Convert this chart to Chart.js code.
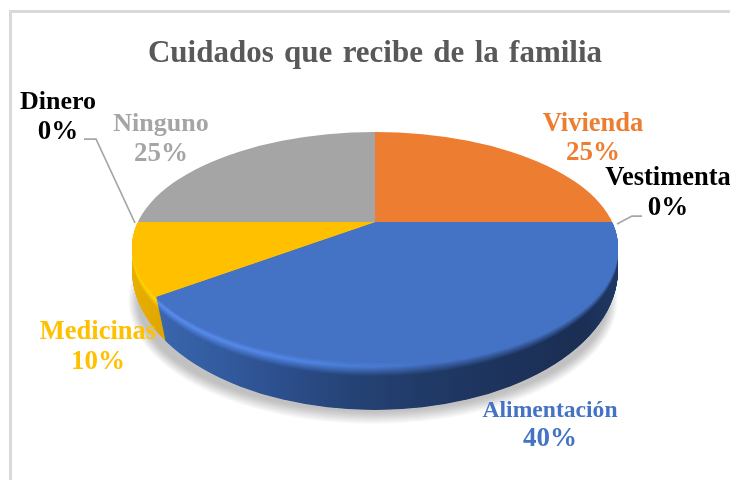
<!DOCTYPE html>
<html><head><meta charset="utf-8">
<script src="https://cdn.jsdelivr.net/npm/chart.js@4"></script>
<style>html,body{margin:0;padding:0;background:#fff;overflow:hidden}
#wrap{position:relative;width:730px;height:480px}
#frame{position:absolute;left:9px;top:10px;width:760px;height:520px;border:3px solid #d9d9d9;box-sizing:border-box}
canvas{position:absolute;left:0;top:0}</style>
</head><body><div id="wrap"><div id="frame"></div><canvas id="c" width="730" height="480"></canvas></div>
<script>
const titleText = 'Cuidados \u200Aque \u200Arecibe \u200Ade \u200Ala \u200Afamilia';
const categories = ['Vivienda','Vestimenta','Alimentación','Medicinas','Dinero','Ninguno'];
const values = [25,0,40,10,0,25];
const faceColors = ['#ed7d31','#70ad47','#4472c4','#ffc000','#000000','#a5a5a5'];
const labelColors = ['#ed7d31','#000000','#4472c4','#ffc000','#000000','#a5a5a5'];
const labelCenters = [[593,124.5,153.5],[668,178.5,208.5],[550,411,439.5],[98,332.5,362.5],[58,102.5,132.5],[161,124.5,154.5]];
const labelSizes = [26.5,26.5,23.6,26.5,26,26];
const leaders = [[[617,224],[632,216],[642,216]],[[84,139],[96,139],[135,223]]];

const wallStops = {
  2:[[160,'#3a66ad'],[250,'#2f5597'],[340,'#264478'],[440,'#1f3864'],[590,'#1b2d52'],[618,'#1f3864']],
  3:[[132,'#e8ae00'],[165,'#dfa600']]
};
const bevelStops = {
  2:[[160,'#5a8df0'],[300,'#5086e6'],[430,'#4472c4'],[618,'#4472c4']],
  3:[[132,'#ffd400'],[165,'#ffd800']]
};
const FACE = {x:375,y:247,rx:243,ry:115};
const BASE = {y:270,ry:140};
const TILT = 0.469;
const DEPTH = 47;

function hex(c){const n=parseInt(c.slice(1),16);return [n>>16,(n>>8)&255,n&255];}
function mix(a,b,f){const A=hex(a),B=hex(b);return 'rgb('+A.map((v,i)=>Math.round(v+(B[i]-v)*f)).join(',')+')';}
function toHex(rgb){return '#'+rgb.match(/\d+/g).map(v=>Number(v).toString(16).padStart(2,'0')).join('');}
function interp(stops,x){
  if(x<=stops[0][0])return stops[0][1];
  for(let i=1;i<stops.length;i++){
    if(x<=stops[i][0]){
      const f=(x-stops[i-1][0])/(stops[i][0]-stops[i-1][0]);
      return toHex(mix(stops[i-1][1],stops[i][1],f));
    }
  }
  return stops[stops.length-1][1];
}
function layerFill(ctx,i,t){
  const wall=wallStops[i],bev=bevelStops[i],face=faceColors[i];
  const x0=wall[0][0],x1=wall[wall.length-1][0];
  const g=ctx.createLinearGradient(x0,0,x1,0);
  for(let k=0;k<=12;k++){
    const x=x0+(x1-x0)*k/12,w=interp(wall,x),b=interp(bev,x);
    let col;
    if(t<0.1)col=mix(face,b,t/0.1);
    else if(t<0.3)col=mix(b,w,(t-0.1)/0.2);
    else col=w;
    g.addColorStop(k/12,col);
  }
  return g;
}
function clipEllipse(ctx,cy,ry){
  ctx.beginPath();ctx.ellipse(FACE.x,cy,FACE.rx,ry,0,0,Math.PI*2);ctx.clip();
}
function drawArc(ctx,arc,dy,fill){
  ctx.save();
  ctx.translate(arc.x,arc.y+dy);ctx.scale(1,TILT);ctx.translate(-arc.x,-arc.y);
  if(fill){const o=arc.options,n=Object.create(o);n.backgroundColor=fill;n.borderWidth=0;arc.options=n;arc.draw(ctx);arc.options=o;}
  else arc.draw(ctx);
  ctx.restore();
}
const pie3d={
  id:'pie3d',
  beforeDatasetsDraw(chart){
    const ctx=chart.ctx,arcs=chart.getDatasetMeta(0).data;
    // soft shadow below the disc: stacked translucent ellipses, tapering into the disc's sides
    ctx.save();
    ctx.fillStyle='rgba(0,0,0,0.022)';
    for(let k=12;k>=0;k--){
      ctx.beginPath();ctx.ellipse(FACE.x-2,300,FACE.rx-8+k*0.8,112+k,0,0,Math.PI*2);ctx.fill();
    }
    ctx.restore();
    // side wall and bevel
    const N=DEPTH*2;
    for(let s=N;s>=1;s--){
      const t=s/N;
      const cy=FACE.y+(BASE.y-FACE.y)*t, ry=FACE.ry+(BASE.ry-FACE.ry)*t;
      ctx.save();clipEllipse(ctx,cy,ry);
      arcs.forEach((arc,i)=>{
        if(!wallStops[i]||arc.circumference===0)return;
        drawArc(ctx,arc,DEPTH*t,layerFill(ctx,i,t));
      });
      ctx.restore();
    }
    // top face
    ctx.save();clipEllipse(ctx,FACE.y,FACE.ry);
    arcs.forEach(arc=>drawArc(ctx,arc,0));
    ctx.restore();
    return false;
  },
  afterDraw(chart){
    const ctx=chart.ctx;
    ctx.save();
    ctx.strokeStyle='#a6a6a6';ctx.lineWidth=1.75;
    leaders.forEach(l=>{ctx.beginPath();l.forEach((p,i)=>i?ctx.lineTo(p[0],p[1]):ctx.moveTo(p[0],p[1]));ctx.stroke();});
    ctx.textAlign='center';ctx.textBaseline='middle';
    categories.forEach((name,i)=>{
      const [x,y1,y2]=labelCenters[i];
      ctx.fillStyle=labelColors[i];
      ctx.font='bold '+labelSizes[i]+'px "Liberation Serif"';
      ctx.fillText(name,x,y1);
      ctx.font='bold 27px "Liberation Serif"';
      ctx.fillText(values[i]+'%',x,y2);
    });
    ctx.restore();
  }
};
new Chart(document.getElementById('c'),{
  type:'pie',
  data:{labels:categories,datasets:[{data:values,backgroundColor:faceColors,borderWidth:0,clip:false}]},
  options:{
    responsive:false,animation:false,
    radius:430,
    layout:{padding:{left:20,top:0,bottom:108,right:0}},
    plugins:{
      legend:{display:false},tooltip:{enabled:false},
      title:{display:true,text:titleText,color:'#595959',
        font:{family:'"Liberation Serif"',size:31,weight:'bold',lineHeight:1.2},
        padding:{top:35,bottom:0}}
    }
  },
  plugins:[pie3d]
});
</script></body></html>
